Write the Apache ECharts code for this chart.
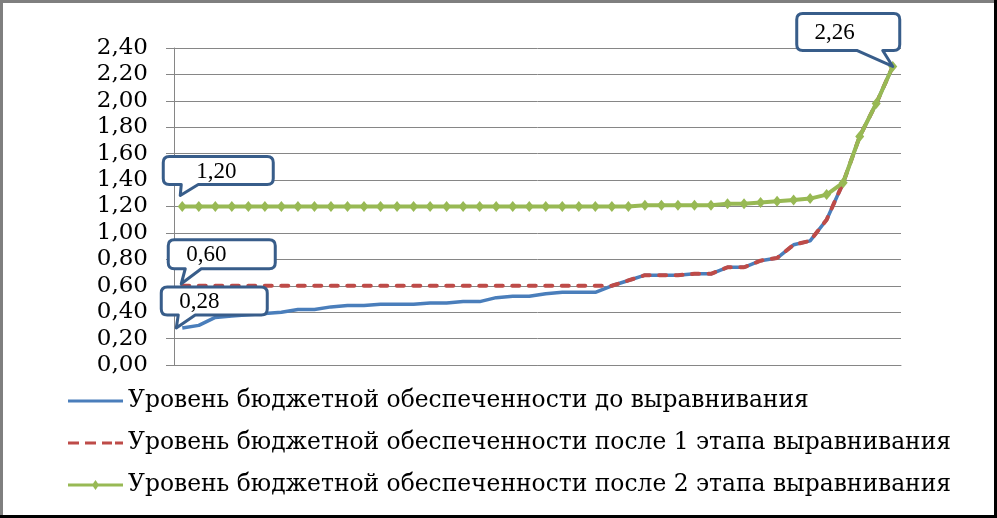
<!DOCTYPE html>
<html>
<head>
<meta charset="utf-8">
<script src="https://cdn.jsdelivr.net/npm/echarts@6/dist/echarts.min.js"></script>
<style>
html,body{margin:0;padding:0;background:#fff;}
#chart{width:997px;height:518px;}
</style>
</head>
<body>
<div id="chart"></div>
<script>
// ---- data ----
const categories = ['1','2','3','4','5','6','7','8','9','10','11','12','13','14','15','16','17','18','19','20','21','22','23','24','25','26','27','28','29','30','31','32','33','34','35','36','37','38','39','40','41','42','43','44'];
const seriesNames = [
  'Уровень бюджетной обеспеченности до выравнивания',
  'Уровень бюджетной обеспеченности после 1 этапа выравнивания',
  'Уровень бюджетной обеспеченности после 2 этапа выравнивания'
];
const beforeValues = [0.28,0.30,0.36,0.37,0.38,0.39,0.40,0.42,0.42,0.44,0.45,0.45,0.46,0.46,0.46,0.47,0.47,0.48,0.48,0.51,0.52,0.52,0.54,0.55,0.55,0.55,0.60,0.64,0.68,0.68,0.68,0.69,0.69,0.74,0.74,0.79,0.81,0.91,0.94,1.10,1.38,1.73,1.98,2.26];
const stage1Values = [0.60,0.60,0.60,0.60,0.60,0.60,0.60,0.60,0.60,0.60,0.60,0.60,0.60,0.60,0.60,0.60,0.60,0.60,0.60,0.60,0.60,0.60,0.60,0.60,0.60,0.60,0.60,0.64,0.68,0.68,0.68,0.69,0.69,0.74,0.74,0.79,0.81,0.91,0.94,1.10,1.38,1.73,1.98,2.26];
const stage2Values = [1.20,1.20,1.20,1.20,1.20,1.20,1.20,1.20,1.20,1.20,1.20,1.20,1.20,1.20,1.20,1.20,1.20,1.20,1.20,1.20,1.20,1.20,1.20,1.20,1.20,1.20,1.20,1.20,1.21,1.21,1.21,1.21,1.21,1.22,1.22,1.23,1.24,1.25,1.26,1.29,1.38,1.73,1.98,2.26];
const yTicks = ['0,00','0,20','0,40','0,60','0,80','1,00','1,20','1,40','1,60','1,80','2,00','2,20','2,40'];
// callouts: which series, which point
const calloutSeriesData = [stage2Values, stage1Values, beforeValues, stage2Values];
const calloutIndex = [0, 0, 0, 43];

// ---- layout of callouts (relative to the data point) ----
const calloutLayout = [
  {tip:[-2,-11], box:[-19,-50,110,28], tail:[-1,16], tx:53},
  {tip:[-1,-2],  box:[-14,-46,107,29], tail:[3,19],  tx:38},
  {tip:[-6,0],   box:[-21,-41,106,28], tail:[-4,13], tx:38},
  {tip:[0,0],    box:[-96,-53,103,37], tail:[-36,-10], tx:38}
];

const FONT = 'DejaVu Serif';
const CFONT = 'Liberation Serif';
const BLUE = '#4A7EBB', RED = '#BE4B48', GREEN = '#98B954';
const fmt = v => v.toFixed(2).replace('.', ',');

const calloutData = calloutIndex.map((ix, k) => [ix, calloutSeriesData[k][ix]]);

function calloutPath(px, py, L) {
  const r = 6;
  const x0 = px + L.box[0], y0 = py + L.box[1], w = L.box[2], h = L.box[3];
  const x1 = x0 + w, y1 = y0 + h;
  const tx = px + L.tip[0], ty = py + L.tip[1];
  const xa = px + L.tail[0], xb = px + L.tail[1];
  return `M${x0+r},${y0} L${x1-r},${y0} Q${x1},${y0} ${x1},${y0+r} L${x1},${y1-r} Q${x1},${y1} ${x1-r},${y1} ` +
         `L${xb},${y1} L${tx},${ty} L${xa},${y1} L${x0+r},${y1} Q${x0},${y1} ${x0},${y1-r} L${x0},${y0+r} Q${x0},${y0} ${x0+r},${y0} Z`;
}

const chart = echarts.init(document.getElementById('chart'), null, {renderer:'canvas'});
const option = {
  animation: false,
  backgroundColor: '#ffffff',
  grid: {left: 174, right: 96, top: 48, bottom: 153, containLabel: false},
  xAxis: {
    type: 'category',
    data: categories,
    boundaryGap: true,
    axisLine: {show: true, lineStyle: {color: '#868686', width: 1}},
    axisTick: {show: false},
    axisLabel: {show: false},
    splitLine: {show: false}
  },
  yAxis: {
    type: 'value',
    min: 0, max: 2.4, interval: 0.2,
    axisLine: {show: true, lineStyle: {color: '#868686', width: 1}},
    axisTick: {show: true, length: 8, lineStyle: {color: '#868686'}},
    axisLabel: {
      margin: 26,
      color: '#000',
      fontFamily: FONT,
      fontSize: 23,
      formatter: (v) => yTicks[Math.round(v / 0.2)]
    },
    splitLine: {show: true, lineStyle: {color: '#868686', width: 1}}
  },
  legend: {
    orient: 'vertical',
    left: 68,
    top: 388,
    padding: 0,
    itemWidth: 55,
    itemHeight: 14,
    itemGap: 16,
    data: [
      {name: seriesNames[0], icon: 'path://M0,0H55V3H0Z', itemStyle: {color: BLUE}},
      {name: seriesNames[1], icon: 'path://M0,0H11V3H0Z M17,0H28V3H17Z M34,0H44V3H34Z M47,0H55V3H47Z', itemStyle: {color: RED}},
      {name: seriesNames[2], icon: 'path://M0,3.5H55V6.5H0Z M27.5,0L31,5L27.5,10L24,5Z', itemStyle: {color: GREEN}}
    ],
    textStyle: {fontFamily: FONT, fontSize: 23.4, color: '#000', lineHeight: 26}
  },
  graphic: [
    {type:'line', shape:{x1:0,y1:1.5,x2:997,y2:1.5}, style:{stroke:'#7f7f7f', lineWidth:3}, z:100},
    {type:'line', shape:{x1:1.5,y1:0,x2:1.5,y2:518}, style:{stroke:'#7f7f7f', lineWidth:3}, z:100},
    {type:'line', shape:{x1:995.5,y1:0,x2:995.5,y2:518}, style:{stroke:'#000', lineWidth:3}, z:100},
    {type:'line', shape:{x1:0,y1:516.5,x2:997,y2:516.5}, style:{stroke:'#000', lineWidth:3}, z:100}
  ],
  series: [
    {
      name: seriesNames[0], type: 'line', data: beforeValues,
      showSymbol: false, symbol: 'none',
      lineStyle: {color: BLUE, width: 3.5},
      itemStyle: {color: BLUE},
      z: 2
    },
    {
      name: seriesNames[1], type: 'line', data: stage1Values,
      showSymbol: false, symbol: 'none',
      lineStyle: {color: RED, width: 4, type: [7, 9.5], cap: 'round'},
      itemStyle: {color: RED},
      z: 3
    },
    {
      name: seriesNames[2], type: 'line', data: stage2Values,
      symbol: 'diamond', symbolSize: [9, 11], showSymbol: true,
      lineStyle: {color: GREEN, width: 4},
      itemStyle: {color: GREEN},
      z: 4
    },
    {
      type: 'custom',
      data: calloutData,
      z: 10,
      silent: true,
      renderItem: function (params, api) {
        const p = api.coord([api.value(0), api.value(1)]);
        const L = calloutLayout[params.dataIndex];
        const x0 = p[0] + L.box[0], y0 = p[1] + L.box[1];
        return {
          type: 'group',
          children: [
            {type: 'path', shape: {pathData: calloutPath(p[0], p[1], L)},
             style: {fill: '#ffffff', stroke: '#385D8A', lineWidth: 3, lineJoin: 'round'}},
            {type: 'text', style: {text: fmt(api.value(1)), x: x0 + L.tx, y: y0 + L.box[3] / 2 + 1,
              align: 'center', verticalAlign: 'middle', fill: '#000', fontFamily: CFONT, fontSize: 23}}
          ]
        };
      }
    }
  ]
};
chart.setOption(option);
</script>
</body>
</html>
